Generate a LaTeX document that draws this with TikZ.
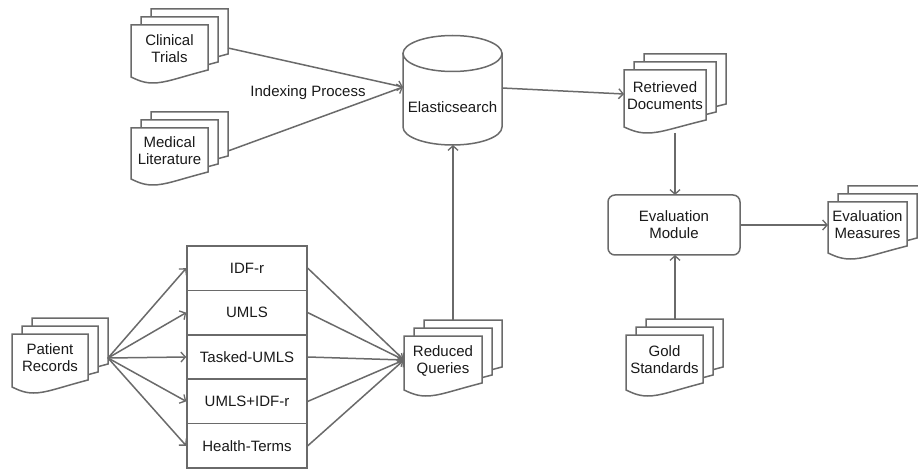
\documentclass[tikz,border=0pt]{standalone}
\usepackage{fontspec}
\setmainfont{Liberation Sans}
\usetikzlibrary{arrows.meta}
\definecolor{ln}{HTML}{6A6A6A}
\definecolor{tx}{HTML}{1A1A1A}
\tikzset{
  docline/.style={draw=ln, fill=white, line width=1.5pt, line join=miter},
  doctext/.style={text=tx, align=center, font=\fontsize{15}{17}\selectfont, inner sep=0pt},
  stackbox/.style={draw=ln, fill=white, line width=1.5pt, minimum width=120pt, minimum height=44.4pt, text=tx, font=\fontsize{15}{17}\selectfont, inner sep=0pt},
  modbox/.style={draw=ln, fill=white, line width=1.5pt, rounded corners=7pt, minimum width=132pt, minimum height=60pt, text=tx, align=center, font=\fontsize{15}{17}\selectfont, inner sep=0pt},
  conn/.style={draw=ln, line width=1.5pt, -{Straight Barb[length=4.5pt,width=10pt,line width=1.3pt]}},
  lbl/.style={text=tx, font=\fontsize{15}{17}\selectfont, inner sep=0pt}
}
% name, x, y (front top-left), width, height, text
\newcommand\mdoc[6]{%
  \foreach \o in {2,1,0}{%
    \begin{scope}[shift={({#2+10*\o},{#3-8*\o})}]
      \filldraw[docline] (0,0) -- (#4,0) -- (#4,{#5-7})
        .. controls ({0.6*#4},{#5+1}) and ({0.45*#4},{#5+6}) .. ({0.28*#4},{#5+6})
        .. controls ({0.15*#4},{#5+6}) and ({0.06*#4},{#5+2}) .. (0,#5) -- cycle;
    \end{scope}}
  \node[doctext] (#1) at ({#2+#4/2},{#3+#5/2-2.5}) {#6};
}
\begin{document}
\begin{tikzpicture}[x=1pt,y=-1pt]
\useasboundingbox[fill=white] (0,0) rectangle (918,470);

% documents
\mdoc{ct}{131}{25}{77}{52}{Clinical\\Trials}
\mdoc{ml}{131}{128}{77}{51}{Medical\\Literature}
\mdoc{rd}{624}{70}{82}{57}{Retrieved\\Documents}
\mdoc{em}{828}{202}{79}{51}{Evaluation\\Measures}
\mdoc{gs}{626}{335}{77}{55}{Gold\\Standards}
\mdoc{rq}{404}{336}{78}{54}{Reduced\\Queries}
\mdoc{pr}{12}{334}{76}{53}{Patient\\Records}

% Elasticsearch cylinder
\filldraw[docline] (403,53.5) -- (403,127) arc[start angle=180,end angle=360,x radius=49.5pt,y radius=18pt] -- (502,53.5) -- cycle;
\draw[docline] (452.5,53.5) ellipse[x radius=49.5pt,y radius=18pt];
\node[lbl] (es) at (452.5,107) {Elasticsearch};

% evaluation module
\node[modbox] (evm) at (674,225) {Evaluation\\Module};

% stack of methods
\node[stackbox] (idf) at (247,268.2) {IDF-r};
\node[stackbox] (umls) at (247,312.6) {UMLS};
\node[stackbox] (tumls) at (247,357) {Tasked-UMLS};
\node[stackbox] (uidf) at (247,401.4) {UMLS+IDF-r};
\node[stackbox] (ht) at (247,445.8) {Health-Terms};

% connection points
\coordinate (ct-out) at (228,48);
\coordinate (ml-out) at (228,151);
\coordinate (es-in) at (403,87);
\coordinate (es-out) at (502,88);
\coordinate (es-bot) at (453,145);
\coordinate (rd-in) at (624,94);
\coordinate (rd-bot) at (675,133);
\coordinate (evm-top) at (675,195);
\coordinate (evm-bot) at (675,255);
\coordinate (evm-out) at (740,225);
\coordinate (em-in) at (828,225);
\coordinate (gs-top) at (675,319);
\coordinate (rq-top) at (453,320);
\coordinate (rq-in) at (404,360);
\coordinate (pr-out) at (108,358);

% connectors
\draw[conn] (ct-out) -- (es-in);
\draw[conn] (ml-out) -- (es-in);
\node[lbl] (idx) at (308,93) {Indexing Process};
\draw[conn] (es-out) -- (rd-in);
\draw[conn] (rd-bot) -- (evm-top);
\draw[conn] (evm-out) -- (em-in);
\draw[conn] (gs-top) -- (evm-bot);
\draw[conn] (rq-top) -- (es-bot);

\foreach \b in {idf,umls,tumls,uidf,ht}{
  \draw[conn] (pr-out) -- (\b.west);
  \draw[conn] (\b.east) -- (rq-in);
}
\end{tikzpicture}
\end{document}
